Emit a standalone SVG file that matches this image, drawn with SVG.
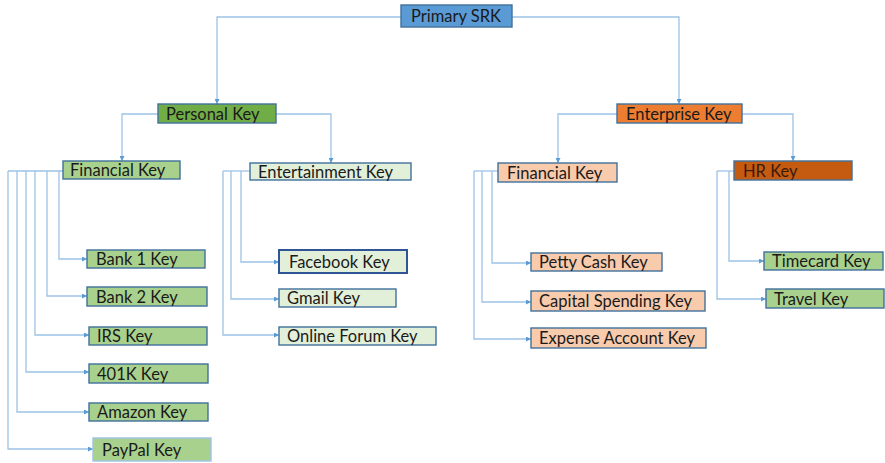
<svg xmlns="http://www.w3.org/2000/svg" width="885" height="463" viewBox="0 0 885 463">
<defs>
<marker id="arr" viewBox="0 0 10 10" refX="10" refY="5" markerWidth="5" markerHeight="5" orient="auto" markerUnits="userSpaceOnUse">
<path d="M0,0 L10,5 L0,10 z" fill="#5b9bd5"/>
</marker>
<style>
.c{fill:none;stroke:#9dc3e6;stroke-width:1.3;marker-end:url(#arr)}
.b{stroke:#41719c;stroke-width:1.4}
.t{font-family:Lato,"Liberation Sans",sans-serif;font-size:16.5px;fill:#1a1a1a}
.blue{fill:#5b9bd5}
.dg{fill:#70ad47}
.or{fill:#ed7d31}
.hr{fill:#c55a11}
.lg{fill:#a9d18e}
.vl{fill:#e2efd9}
.pe{fill:#f8cbad}
</style>
</defs>
<rect width="885" height="463" fill="#ffffff"/>
<g id="connectors">
<path class="c" d="M401,17 H217 V104"/>
<path class="c" d="M512,17 H679 V104"/>
<path class="c" d="M158,114 H122 V161"/>
<path class="c" d="M276,114 H331 V163"/>
<path class="c" d="M617,114 H558 V163"/>
<path class="c" d="M742,114 H793 V161"/>
<path fill="none" stroke="#9dc3e6" stroke-width="1.3" d="M63,171 H8"/>
<path class="c" d="M59,171 V259 H87"/>
<path class="c" d="M47,171 V296 H87"/>
<path class="c" d="M35,171 V335 H89"/>
<path class="c" d="M26,171 V372 H89"/>
<path class="c" d="M17,171 V412 H89"/>
<path class="c" d="M8,171 V449 H93"/>
<path fill="none" stroke="#9dc3e6" stroke-width="1.3" d="M250,171 H223"/>
<path class="c" d="M241,171 V262 H279"/>
<path class="c" d="M231,171 V299 H279"/>
<path class="c" d="M223,171 V335 H279"/>
<path fill="none" stroke="#9dc3e6" stroke-width="1.3" d="M498,171 H474"/>
<path class="c" d="M492,171 V263 H531"/>
<path class="c" d="M482,171 V302 H531"/>
<path class="c" d="M474,171 V339 H531"/>
<path fill="none" stroke="#9dc3e6" stroke-width="1.3" d="M734,171 H717"/>
<path class="c" d="M729,171 V261 H764"/>
<path class="c" d="M717,171 V299 H766"/>
</g>
<g id="primary"><rect class="b blue" x="401" y="5" width="111" height="22"/><text class="t" x="411" y="22">Primary SRK</text></g>
<g id="personal"><rect class="b dg" x="158" y="104" width="118" height="19"/><text class="t" x="166" y="120">Personal Key</text></g>
<g id="enterprise"><rect class="b or" x="617" y="104" width="125" height="19"/><text class="t" x="626" y="120">Enterprise Key</text></g>
<g id="pfin"><rect class="b lg" x="63" y="161" width="117" height="18"/><text class="t" x="70" y="176">Financial Key</text></g>
<g id="entertain"><rect class="b vl" x="250" y="163" width="161" height="17"/><text class="t" x="258" y="178">Entertainment Key</text></g>
<g id="efin"><rect class="b pe" x="498" y="163" width="119" height="19"/><text class="t" x="507" y="179">Financial Key</text></g>
<g id="hr"><rect class="b hr" x="734" y="161" width="118" height="19"/><text class="t" x="743" y="177" style="fill:#3a1a08">HR Key</text></g>
<g id="bank1"><rect class="b lg" x="87" y="250" width="118" height="18"/><text class="t" x="96" y="265">Bank 1 Key</text></g>
<g id="bank2"><rect class="b lg" x="87" y="287" width="120" height="19"/><text class="t" x="96" y="303">Bank 2 Key</text></g>
<g id="irs"><rect class="b lg" x="89" y="327" width="118" height="18"/><text class="t" x="97" y="342">IRS Key</text></g>
<g id="k401"><rect class="b lg" x="89" y="364" width="119" height="19"/><text class="t" x="97" y="380">401K Key</text></g>
<g id="amazon"><rect class="b lg" x="89" y="403" width="119" height="18"/><text class="t" x="97" y="418">Amazon Key</text></g>
<g id="paypal"><rect class="b lg" x="93" y="438" width="118" height="23" style="stroke:#9dc3e6"/><text class="t" x="102" y="456">PayPal Key</text></g>
<g id="facebook"><rect class="vl" x="279" y="250" width="128" height="23" style="stroke:#2f5597;stroke-width:2"/><text class="t" x="289" y="268">Facebook Key</text></g>
<g id="gmail"><rect class="b vl" x="279" y="289" width="117" height="18"/><text class="t" x="287" y="304">Gmail Key</text></g>
<g id="forum"><rect class="b vl" x="279" y="327" width="157" height="18"/><text class="t" x="287" y="342">Online Forum Key</text></g>
<g id="petty"><rect class="b pe" x="531" y="253" width="131" height="18"/><text class="t" x="539" y="268">Petty Cash Key</text></g>
<g id="capital"><rect class="b pe" x="531" y="291" width="174" height="20"/><text class="t" x="539" y="307">Capital Spending Key</text></g>
<g id="expense"><rect class="b pe" x="531" y="328" width="175" height="20"/><text class="t" x="539" y="344">Expense Account Key</text></g>
<g id="timecard"><rect class="b lg" x="764" y="252" width="119" height="18"/><text class="t" x="772" y="267">Timecard Key</text></g>
<g id="travel"><rect class="b lg" x="766" y="289" width="118" height="19"/><text class="t" x="774" y="305">Travel Key</text></g>
</svg>
